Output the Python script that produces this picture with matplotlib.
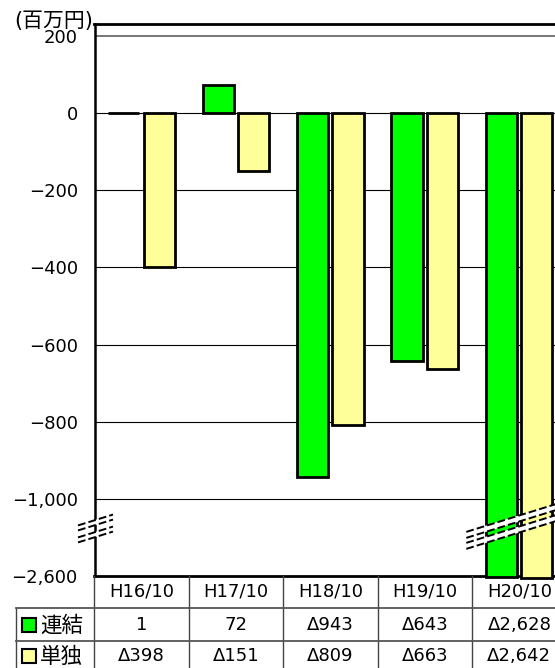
import matplotlib
matplotlib.use('Agg')
import matplotlib.pyplot as plt
import matplotlib.transforms as mtrans
from matplotlib.lines import Line2D
from matplotlib.patches import Rectangle
import numpy as np

# data (百万円)
periods = ['H16/10', 'H17/10', 'H18/10', 'H19/10', 'H20/10']
consolidated = [1, 72, -943, -643, -2628]
standalone = [-398, -151, -809, -663, -2642]
series_names = ['連結', '単独']
series_colors = ['#00ff00', '#ffff99']
tick_values = [200, 0, -200, -400, -600, -800, -1000, -2600]

# axis break: everything below -1000 squeezed so -2600 sits one grid step lower
BREAK_AT = -1000
SQUEEZE = 8.0


def squash(v):
    if v >= BREAK_AT:
        return v
    return BREAK_AT + (v - BREAK_AT) / SQUEEZE


def fmt_value(v):
    # negative numbers are written with a delta sign
    if v < 0:
        return 'Δ' + f'{abs(v):,}'
    return f'{v:,}'


plt.rcParams['font.family'] = ['DejaVu Sans', 'Noto Sans CJK JP']

W, H = 555, 668
fig = plt.figure(figsize=(W / 100, H / 100), dpi=100)


def fx(px):
    return px / W


def fy(py):
    return 1 - py / H


# plot area runs off the right edge like in the source image
ax_left, ax_right, ax_top, ax_bottom = 94.5, 566.5, 24.3, 576
ax = fig.add_axes([fx(ax_left), fy(ax_bottom), (ax_right - ax_left) / W, (ax_bottom - ax_top) / H])
ax.set_xlim(-0.5, len(periods) - 0.5)
ax.set_ylim(squash(-2600), 230.6)

x = np.arange(len(periods))
bw = 0.33
ax.bar(x - 0.19, [squash(v) for v in consolidated], bw, color=series_colors[0],
       edgecolor='black', linewidth=2.0, zorder=3, clip_on=False)
ax.bar(x + 0.185, [squash(v) for v in standalone], bw, color=series_colors[1],
       edgecolor='black', linewidth=2.0, zorder=3, clip_on=False)

# gridlines
for v in tick_values:
    if v == -2600:
        continue
    if v == 200:
        ax.axhline(squash(v), color='#777777', lw=1.4, zorder=1)
    else:
        ax.axhline(squash(v), color='black', lw=0.8, zorder=1)

ax.set_yticks([squash(v) for v in tick_values])
ax.set_yticklabels([f'{v:,}'.replace('-', '−') for v in tick_values], fontsize=13)
ax.tick_params(axis='y', length=0, pad=12)
ax.set_xticks([])
ax.spines['right'].set_visible(False)
ax.spines['left'].set_linewidth(1.8)
ax.spines['bottom'].set_linewidth(2.0)
ax.spines['top'].set_linewidth(2.0)

fig.text(fx(14), fy(21), '(百万円)', fontsize=15, ha='left', va='center')

# break marks (display pixels)
ident = mtrans.IdentityTransform()


def break_band(cx, cy, half, thick, slope=0.31):
    xs = [cx - half, cx + half]
    ys = [cy - half * slope, cy + half * slope]
    fig.add_artist(Line2D(xs, ys, lw=thick * 0.72, color='white',
                          solid_capstyle='butt', transform=ident, zorder=6))
    for off in (-thick / 2, thick / 2):
        fig.add_artist(Line2D(xs, [y + off for y in ys], lw=1.4, color='black',
                              linestyle=(0, (4, 1.6)), transform=ident, zorder=7))


# on the y axis
ax_x0, _ = ax.transData.transform((-0.5, 0))
for img_y in (522.5, 534.5):
    break_band(ax_x0 + 1, H - img_y, 17.5, 5)

# across the H20/10 bars
cx4, _ = ax.transData.transform((len(periods) - 1, 0))
for img_y in (520, 531):
    break_band(cx4 - 5, H - img_y, 48, 6)

# data table under the chart
bt = mtrans.blended_transform_factory(ax.transData, fig.transFigure)
line_kw = dict(color='#444444', lw=1.0, zorder=4)
row_edges = [576, 608, 641, 672]
for i in range(len(periods) + 1):
    xe = i - 0.5
    fig.add_artist(Line2D([xe, xe], [fy(576), fy(668)], transform=bt, **line_kw))
fig.add_artist(Line2D([fx(16), fx(16)], [fy(608), fy(668)], transform=fig.transFigure, **line_kw))
for ry in row_edges[1:3]:
    fig.add_artist(Line2D([fx(16), fx(W)], [fy(ry), fy(ry)], transform=fig.transFigure,
                          color='#555555', lw=1.3, zorder=4))

row_centers = [592, 625, 656]
for i, p in enumerate(periods):
    fig.text(i, fy(row_centers[0]), p, transform=bt, fontsize=13, ha='center', va='center')
    fig.text(i, fy(row_centers[1]), fmt_value(consolidated[i]), transform=bt,
             fontsize=13, ha='center', va='center')
    fig.text(i, fy(row_centers[2]), fmt_value(standalone[i]), transform=bt,
             fontsize=13, ha='center', va='center')

for name, col, cy in zip(series_names, series_colors, row_centers[1:]):
    fig.add_artist(Rectangle((fx(22), fy(cy + 7)), 14 / W, 14 / H, facecolor=col,
                             edgecolor='black', lw=1.5, transform=fig.transFigure))
    fig.text(fx(40), fy(cy + 1), name, fontsize=15.5, ha='left', va='center')

fig.savefig('out.png', dpi=100)
